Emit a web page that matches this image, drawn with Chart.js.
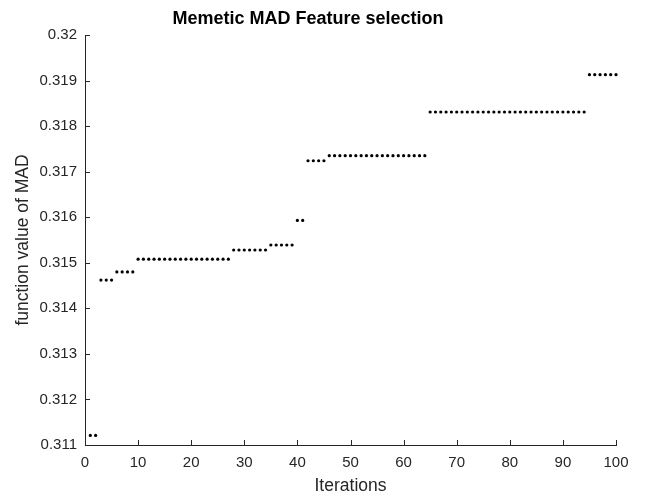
<!DOCTYPE html>
<html>
<head>
<meta charset="utf-8">
<script src="https://cdn.jsdelivr.net/npm/chart.js@4/dist/chart.umd.min.js"></script>
<style>
html,body{margin:0;padding:0;background:#fff;}
#c{display:block;}
</style>
</head>
<body>
<canvas id="c" width="645" height="503"></canvas>
<script>
const iterations = [
  1,2,3,4,5,6,7,8,9,10,
  11,12,13,14,15,16,17,18,19,20,
  21,22,23,24,25,26,27,28,29,30,
  31,32,33,34,35,36,37,38,39,40,
  41,42,43,44,45,46,47,48,49,50,
  51,52,53,54,55,56,57,58,59,60,
  61,62,63,64,65,66,67,68,69,70,
  71,72,73,74,75,76,77,78,79,80,
  81,82,83,84,85,86,87,88,89,90,
  91,92,93,94,95,96,97,98,99,100
];
const madValues = [
  0.31121,0.31121,0.31462,0.31462,0.31462,0.31480,0.31480,0.31480,0.31480,0.31508,
  0.31508,0.31508,0.31508,0.31508,0.31508,0.31508,0.31508,0.31508,0.31508,0.31508,
  0.31508,0.31508,0.31508,0.31508,0.31508,0.31508,0.31508,0.31528,0.31528,0.31528,
  0.31528,0.31528,0.31528,0.31528,0.31539,0.31539,0.31539,0.31539,0.31539,0.31593,
  0.31593,0.31724,0.31724,0.31724,0.31724,0.31735,0.31735,0.31735,0.31735,0.31735,
  0.31735,0.31735,0.31735,0.31735,0.31735,0.31735,0.31735,0.31735,0.31735,0.31735,
  0.31735,0.31735,0.31735,0.31735,0.31831,0.31831,0.31831,0.31831,0.31831,0.31831,
  0.31831,0.31831,0.31831,0.31831,0.31831,0.31831,0.31831,0.31831,0.31831,0.31831,
  0.31831,0.31831,0.31831,0.31831,0.31831,0.31831,0.31831,0.31831,0.31831,0.31831,
  0.31831,0.31831,0.31831,0.31831,0.31913,0.31913,0.31913,0.31913,0.31913,0.31913
];
const xTicks = [0,10,20,30,40,50,60,70,80,90,100];
const yTicks = [0.311,0.312,0.313,0.314,0.315,0.316,0.317,0.318,0.319,0.32];
const chartTitle = 'Memetic MAD Feature selection';
const xTitle = 'Iterations';
const yTitle = 'function value of MAD';

const axisColor = '#262626';
const FONT = "'Liberation Sans', Arial, sans-serif";

const inwardTicks = {
  id: 'inwardTicks',
  afterDatasetsDraw(chart) {
    const ctx = chart.ctx;
    const xs = chart.scales.x, ys = chart.scales.y;
    const a = chart.chartArea;
    ctx.save();
    ctx.strokeStyle = axisColor;
    ctx.lineWidth = 1;
    ctx.beginPath();
    xs.ticks.forEach(t => {
      const px = Math.round(xs.getPixelForValue(t.value)) + 0.5;
      ctx.moveTo(px, a.bottom);
      ctx.lineTo(px, a.bottom - 5);
    });
    ys.ticks.forEach(t => {
      const py = Math.round(ys.getPixelForValue(t.value)) + 0.5;
      ctx.moveTo(a.left, py);
      ctx.lineTo(a.left + 5, py);
    });
    ctx.stroke();
    ctx.restore();
  }
};

new Chart(document.getElementById('c'), {
  type: 'scatter',
  data: {
    datasets: [{
      data: iterations.map((it, i) => ({x: it, y: madValues[i]})),
      backgroundColor: '#000',
      borderColor: '#000',
      borderWidth: 0,
      pointRadius: 1.6,
      pointHoverRadius: 1.6,
      clip: false
    }]
  },
  options: {
    responsive: false,
    animation: false,
    devicePixelRatio: 1,
    layout: { padding: { left: 0, right: 29, top: 0, bottom: 0 } },
    plugins: {
      legend: { display: false },
      tooltip: { enabled: false },
      title: {
        display: true,
        text: chartTitle,
        color: '#000',
        font: { family: FONT, size: 18, weight: 'bold', lineHeight: 1.2 },
        padding: { top: 8.2, bottom: 5.2 }
      }
    },
    scales: {
      x: {
        type: 'linear',
        min: 0, max: 100,
        afterBuildTicks(s) { s.ticks = xTicks.map(v => ({value: v})); },
        afterFit(s) { s.height = 58; },
        ticks: {
          color: axisColor,
          font: { family: FONT, size: 15 },
          padding: 9,
          maxRotation: 0,
          callback: v => String(v)
        },
        grid: { display: true, drawOnChartArea: false, drawTicks: false },
        border: { display: true, color: axisColor, width: 1 },
        title: {
          display: true,
          text: xTitle,
          color: axisColor,
          font: { family: FONT, size: 17.5, lineHeight: 1.2 },
          padding: { top: 0, bottom: 6.5 }
        }
      },
      y: {
        type: 'linear',
        min: 0.311, max: 0.32,
        afterBuildTicks(s) { s.ticks = yTicks.map(v => ({value: v})); },
        afterFit(s) { s.width = 85; },
        ticks: {
          color: axisColor,
          font: { family: FONT, size: 15 },
          padding: 8,
          callback: v => String(Number(v.toFixed(3)))
        },
        grid: { display: true, drawOnChartArea: false, drawTicks: false },
        border: { display: true, color: axisColor, width: 1 },
        title: {
          display: true,
          text: yTitle,
          color: axisColor,
          font: { family: FONT, size: 17.5, lineHeight: 1.2 },
          padding: { top: 12.8, bottom: 0 }
        }
      }
    }
  },
  plugins: [inwardTicks]
});
</script>
</body>
</html>
